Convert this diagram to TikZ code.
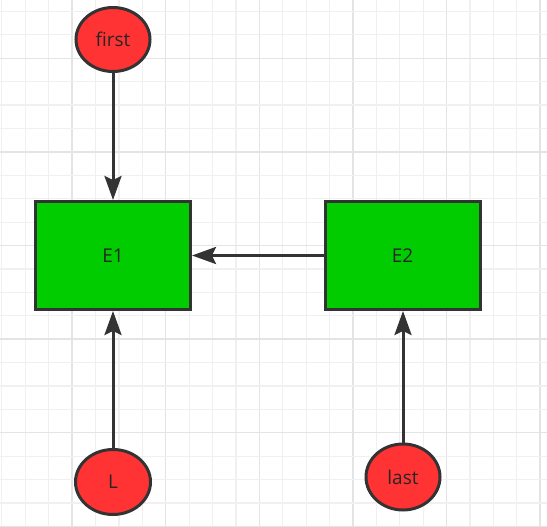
\documentclass[tikz,border=0pt]{standalone}
\usepackage{fontspec}
\setmainfont{Open Sans}
\usetikzlibrary{shapes.geometric,arrows.meta}
\definecolor{redfill}{HTML}{FF3333}
\definecolor{greenfill}{HTML}{00CC00}
\definecolor{strokec}{HTML}{333333}
\definecolor{gridminor}{HTML}{F0F0F0}
\definecolor{gridmajor}{HTML}{E4E4E4}
\definecolor{textc}{HTML}{262626}
\tikzset{
  circnode/.style={ellipse, draw=strokec, line width=3pt, fill=redfill, inner sep=0pt,
    font=\fontsize{19}{22}\selectfont, text=textc},
  boxnode/.style={rectangle, draw=strokec, line width=3pt, fill=greenfill, inner sep=0pt,
    minimum width=155pt, minimum height=108pt, font=\fontsize{19}{22}\selectfont, text=textc},
  conn/.style={draw=strokec, line width=3pt, -{Stealth[length=24pt,width=17pt,inset=4pt]}},
}
\begin{document}
\begin{tikzpicture}[x=1pt,y=-1pt]
\useasboundingbox (0,0) rectangle (547,527);
\fill[white] (0,0) rectangle (547,527);
% grid
\foreach \k in {0,...,23} {
  \pgfmathsetmacro\gx{1.9+23.4*\k}
  \pgfmathtruncatemacro\m{mod(\k,4)==3}
  \ifnum\m=1
    \draw[gridmajor, line width=1.4pt] (\gx,0) -- (\gx,527);
  \else
    \draw[gridminor, line width=1.2pt] (\gx,0) -- (\gx,527);
  \fi
}
\foreach \k in {0,...,22} {
  \pgfmathsetmacro\gy{11.5+23.4*\k}
  \pgfmathtruncatemacro\m{mod(\k,4)==2}
  \ifnum\m=1
    \draw[gridmajor, line width=1.4pt] (0,\gy) -- (547,\gy);
  \else
    \draw[gridminor, line width=1.2pt] (0,\gy) -- (547,\gy);
  \fi
}
% nodes
\node[circnode, minimum width=74pt, minimum height=64pt] (first) at (113,39.5) {first};
\node[circnode, minimum width=75pt, minimum height=65pt] (L) at (113,482) {L};
\node[circnode, minimum width=74pt, minimum height=66pt] (last) at (403,477) {last};
\node[boxnode] (E1) at (113,255.5) {E1};
\node[boxnode] (E2) at (402.5,255.5) {E2};
% connectors
\draw[conn] (first) -- (E1);
\draw[conn] (L) -- (E1);
\draw[conn] (last) -- (last |- E2.south);
\draw[conn] (E2) -- (E1);
\end{tikzpicture}
\end{document}
